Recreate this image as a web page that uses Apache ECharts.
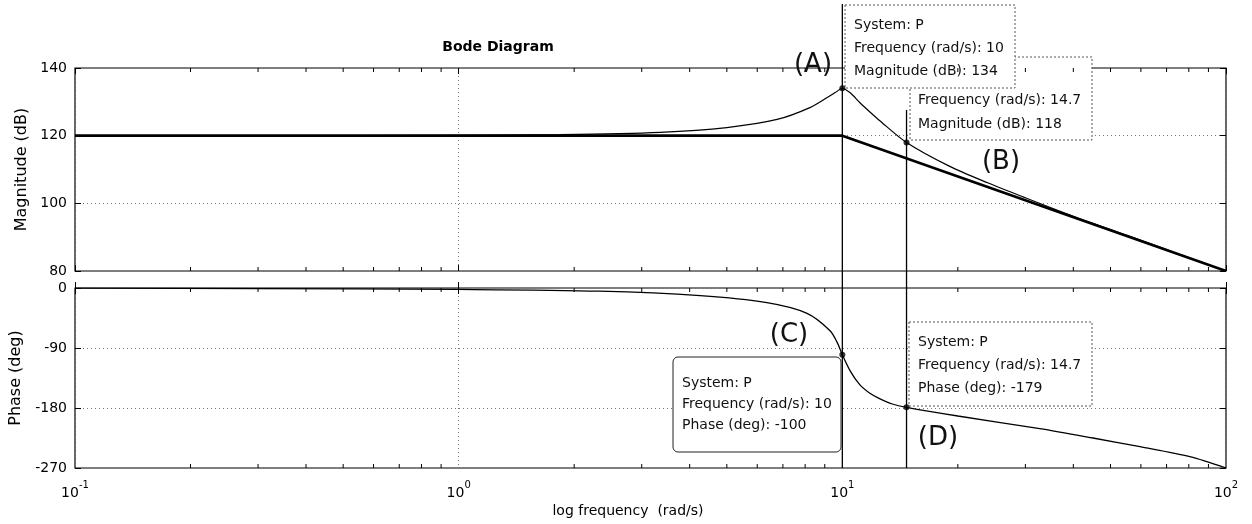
<!DOCTYPE html>
<html><head><meta charset="utf-8">
<script src="https://cdn.jsdelivr.net/npm/echarts@6/dist/echarts.min.js"></script>
<style>html,body{margin:0;padding:0;background:#fff}#c{width:1252px;height:524px}</style>
</head><body><div id="c"></div>
<script>
// ---- data ----
const magFreq  = [0.1, 0.3, 1, 1.84, 3.35, 5.0, 6.76, 8.23, 9.2, 9.6, 10, 10.5, 11.1, 11.8, 12.5, 14.7, 19, 24, 29.6, 40, 55, 75, 100];
const magDb    = [120, 120, 120.1, 120.3, 121.0, 122.4, 124.8, 128.3, 131.5, 132.8, 134, 132.6, 129.8, 127, 124.5, 118, 111, 106, 101.9, 96.2, 90.6, 85.1, 80];
const asymFreq = [0.1, 10, 100];
const asymDb   = [120, 120, 80];
const phaseFreq = [0.1, 0.3, 1, 2.33, 4.26, 6.36, 8.09, 9.29, 9.7, 10, 10.5, 11.1, 11.8, 12.5, 13.5, 14.7, 20, 32.7, 45, 59.7, 80.5, 100];
const phaseDeg  = [-0.3, -0.8, -2.2, -4.8, -11.5, -22, -38, -64, -82, -100, -125, -145, -158, -166, -174, -179, -192, -211, -225, -238, -253, -270];
const tipFreq  = [10, 14.7];
const tipMag   = [134, 118];
const tipPhase = [-100, -179];
const minorFreq = [0.2,0.3,0.4,0.5,0.6,0.7,0.8,0.9, 2,3,4,5,6,7,8,9, 20,30,40,50,60,70,80,90];
const magTicks = {min: 80, max: 140, step: 20};
const phaseTicks = {min: -270, max: 0, step: 90};
const freqRange = {min: 0.1, max: 100};
const tipA = ['System: P', 'Frequency (rad/s): 10', 'Magnitude (dB): 134'];
const tipB = ['System: P', 'Frequency (rad/s): 14.7', 'Magnitude (dB): 118'];
const tipC = ['System: P', 'Frequency (rad/s): 10', 'Phase (deg): -100'];
const tipD = ['System: P', 'Frequency (rad/s): 14.7', 'Phase (deg): -179'];
const letters = ['(A)', '(B)', '(C)', '(D)'];

const FONT = 'DejaVu Sans';
const zip = (a, b) => a.map((v, i) => [v, b[i]]);
const chart = echarts.init(document.getElementById('c'), null, {renderer: 'canvas'});

function xAx(grid, pos, labels) {
  return {
    type: 'log', logBase: 10, gridIndex: grid, position: pos,
    min: freqRange.min, max: freqRange.max,
    axisLine: {show: false},
    axisTick: {show: true, inside: true, length: 6, lineStyle: {color: '#000', width: 1}},
    axisLabel: labels ? {
      show: true, margin: 12,
      formatter: v => '{b|10}{s|' + Math.round(Math.log10(v)) + '}',
      rich: {
        b: {fontFamily: FONT, fontSize: 14, color: '#000', lineHeight: 20, verticalAlign: 'bottom'},
        s: {fontFamily: FONT, fontSize: 10, color: '#000', lineHeight: 20, verticalAlign: 'top'}
      }
    } : {show: false},
    splitLine: {show: pos === 'bottom', lineStyle: {color: '#777', type: [1, 3], width: 1}}
  };
}
function yAx(grid, pos, t, labels) {
  return {
    type: 'value', gridIndex: grid, position: pos,
    min: t.min, max: t.max, interval: t.step,
    axisLine: {show: false},
    axisTick: {show: true, inside: true, length: 6, lineStyle: {color: '#000'}},
    axisLabel: labels ? {show: true, margin: 8, fontFamily: FONT, fontSize: 14, color: '#000'} : {show: false},
    splitLine: {show: pos === 'left', lineStyle: {color: '#777', type: [1, 3], width: 1}}
  };
}
function minorTickSeries(xi, yi, t) {
  return {
    type: 'custom', xAxisIndex: xi, yAxisIndex: yi, silent: true, z: 5,
    data: minorFreq.map(f => [f, t.min]),
    renderItem: (params, api) => {
      const f = api.value(0);
      const b = api.coord([f, t.min]);
      const tp = api.coord([f, t.max]);
      const st = {stroke: '#000', lineWidth: 1};
      return {type: 'group', children: [
        {type: 'line', shape: {x1: b[0], y1: b[1], x2: b[0], y2: b[1] - 4}, style: st},
        {type: 'line', shape: {x1: tp[0], y1: tp[1], x2: tp[0], y2: tp[1] + 4}, style: st}
      ]};
    }
  };
}

chart.setOption({
  animation: false,
  backgroundColor: '#fff',
  grid: [
    {left: 75, right: 26, top: 68, height: 203, show: true, borderColor: '#000', borderWidth: 1.2, backgroundColor: 'transparent'},
    {left: 75, right: 26, top: 288, height: 180, show: true, borderColor: '#000', borderWidth: 1.2, backgroundColor: 'transparent'}
  ],
  xAxis: [xAx(0, 'bottom', false), xAx(0, 'top', false), xAx(1, 'bottom', true), xAx(1, 'top', false)],
  yAxis: [
    Object.assign(yAx(0, 'left', magTicks, true), {name: 'Magnitude (dB)', nameLocation: 'middle', nameGap: 38, nameRotate: 90,
      nameTextStyle: {fontFamily: FONT, fontSize: 16, color: '#000'}}),
    yAx(0, 'right', magTicks, false),
    Object.assign(yAx(1, 'left', phaseTicks, true), {name: 'Phase (deg)', nameLocation: 'middle', nameGap: 47, nameRotate: 90,
      nameTextStyle: {fontFamily: FONT, fontSize: 16, color: '#000'}}),
    yAx(1, 'right', phaseTicks, false)
  ],
  series: [
    {type: 'line', name: 'asymptote', xAxisIndex: 0, yAxisIndex: 0, data: zip(asymFreq, asymDb),
      symbol: 'none', lineStyle: {color: '#000', width: 2.6}, z: 3},
    {type: 'line', name: 'magnitude', xAxisIndex: 0, yAxisIndex: 0, data: zip(magFreq, magDb),
      symbol: 'none', smooth: 0.3, lineStyle: {color: '#000', width: 1.2}, z: 4},
    {type: 'line', name: 'phase', xAxisIndex: 2, yAxisIndex: 2, data: zip(phaseFreq, phaseDeg),
      symbol: 'none', smooth: 0.3, lineStyle: {color: '#000', width: 1.3}, z: 4},
    {type: 'scatter', xAxisIndex: 0, yAxisIndex: 0, data: zip(tipFreq, tipMag), symbolSize: 6,
      itemStyle: {color: '#000'}, z: 20},
    {type: 'scatter', xAxisIndex: 2, yAxisIndex: 2, data: zip(tipFreq, tipPhase), symbolSize: 6,
      itemStyle: {color: '#000'}, z: 20},
    minorTickSeries(0, 0, magTicks),
    minorTickSeries(2, 2, phaseTicks)
  ]
});

// annotations positioned from the library's scales
const pTop10 = chart.convertToPixel({gridIndex: 0}, [tipFreq[0], magTicks.max]);
const pBot10 = chart.convertToPixel({gridIndex: 1}, [tipFreq[0], phaseTicks.min]);
const pBot14 = chart.convertToPixel({gridIndex: 1}, [tipFreq[1], phaseTicks.min]);

function tipBox(x, y, w, h, lines, tx, ty, gap, dashed, r) {
  const children = [{type: 'rect', shape: {x: x, y: y, width: w, height: h, r: r || 0},
    style: {fill: '#fff', stroke: dashed ? '#555' : '#222', lineWidth: 1, lineDash: dashed ? [2, 2] : null}}];
  lines.forEach((s, i) => children.push({type: 'text', x: tx, y: ty + i * gap,
    style: {text: s, fontFamily: FONT, fontSize: 14, fill: '#111', verticalAlign: 'middle'}}));
  return {type: 'group', children: children, z: 50};
}
function letter(s, cx, cy) {
  return {type: 'text', x: cx, y: cy, z: 60,
    style: {text: s, fontFamily: FONT, fontSize: 26, fill: '#111', align: 'center', verticalAlign: 'middle'}};
}

chart.setOption({
  graphic: [
    {type: 'line', z: 40, shape: {x1: pTop10[0], y1: 4, x2: pBot10[0], y2: pBot10[1]}, style: {stroke: '#000', lineWidth: 1.3}},
    {type: 'line', z: 40, shape: {x1: pBot14[0], y1: 110, x2: pBot14[0], y2: pBot14[1]}, style: {stroke: '#000', lineWidth: 1.3}},
    tipBox(910, 57, 182, 83, tipB, 918, 77, 23.5, true),
    tipBox(845, 5, 170, 83, tipA, 854, 25, 23, true),
    tipBox(673, 357, 168, 95, tipC, 682, 383, 21, false, 5),
    tipBox(909, 322, 183, 84, tipD, 918, 342, 23, true),
    letter(letters[0], 813, 65),
    letter(letters[1], 1001, 162),
    letter(letters[2], 789, 335),
    letter(letters[3], 938, 438),
    {type: 'text', x: 498, y: 47, z: 60, style: {text: 'Bode Diagram', fontFamily: FONT, fontSize: 14, fontWeight: 'bold',
      fill: '#000', align: 'center', verticalAlign: 'middle'}},
    {type: 'text', x: 628, y: 511, z: 60, style: {text: 'log frequency  (rad/s)', fontFamily: FONT, fontSize: 14,
      fill: '#000', align: 'center', verticalAlign: 'middle'}}
  ]
});
</script></body></html>
